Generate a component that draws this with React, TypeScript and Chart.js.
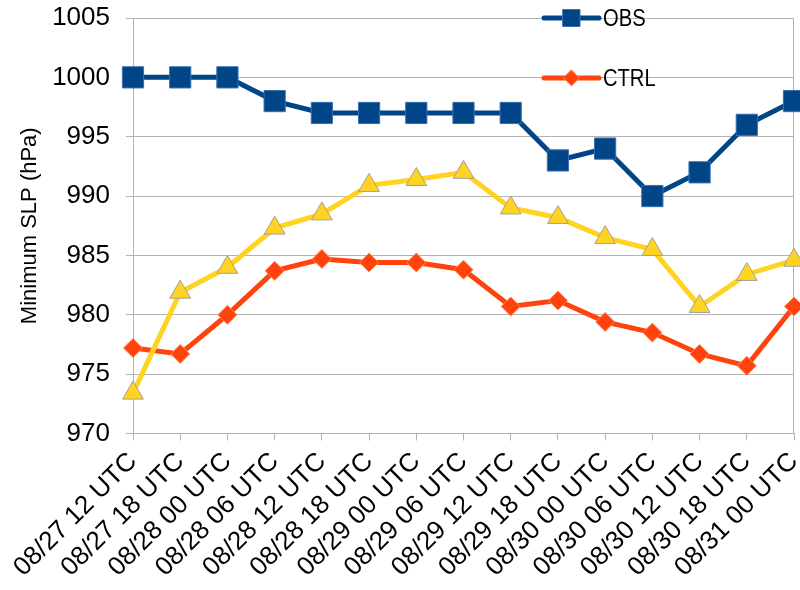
import React, { useEffect, useRef } from "react";
import { Chart, registerables } from "chart.js";

Chart.register(...registerables);

const categories = [
  "08/27 12 UTC", "08/27 18 UTC", "08/28 00 UTC", "08/28 06 UTC", "08/28 12 UTC",
  "08/28 18 UTC", "08/29 00 UTC", "08/29 06 UTC", "08/29 12 UTC", "08/29 18 UTC",
  "08/30 00 UTC", "08/30 06 UTC", "08/30 12 UTC", "08/30 18 UTC", "08/31 00 UTC",
];
const obsValues = [1000, 1000, 1000, 998, 997, 997, 997, 997, 997, 993, 994, 990, 992, 996, 998];
const ctrlValues = [977.2, 976.7, 980, 983.7, 984.7, 984.4, 984.4, 983.8, 980.7, 981.2, 979.4, 978.5, 976.7, 975.7, 980.7];
const thirdValues = [973.4, 981.9, 984, 987.3, 988.5, 990.9, 991.4, 992, 989, 988.2, 986.5, 985.5, 980.7, 983.4, 984.6];
const yMin = 970;
const yMax = 1005;
const yStep = 5;
const yTitle = "Minimum SLP (hPa)";

const GRID = "#b3b3b3";
const FONT = "'Liberation Sans', Arial, sans-serif";

const framePlugin = {
  id: "frame",
  beforeDatasetsDraw(chart: any) {
    const { ctx, chartArea } = chart;
    ctx.save();
    ctx.strokeStyle = GRID;
    ctx.lineWidth = 1;
    ctx.beginPath();
    const x = Math.round(chartArea.right) - 0.5;
    ctx.moveTo(x, chartArea.top);
    ctx.lineTo(x, chartArea.bottom);
    ctx.stroke();
    ctx.restore();
  },
};

const legendPlugin = {
  id: "customLegend",
  afterDatasetsDraw(chart: any) {
    const { ctx, chartArea } = chart;
    const items = chart.data.datasets.filter((d: any) => d.inLegend);
    items.forEach((ds: any, i: number) => {
      const y = chartArea.top + i * 60;
      const x0 = chartArea.right - 250;
      const x1 = chartArea.right - 195;
      const xm = (x0 + x1) / 2;
      ctx.save();
      ctx.strokeStyle = ds.borderColor;
      ctx.lineWidth = 5;
      ctx.lineCap = "round";
      ctx.beginPath();
      ctx.moveTo(x0, y);
      ctx.lineTo(x1, y);
      ctx.stroke();
      ctx.fillStyle = ds.pointBackgroundColor;
      ctx.strokeStyle = ds.pointBorderColor;
      ctx.lineWidth = 1;
      ctx.beginPath();
      if (ds.pointStyle === "rect") {
        ctx.rect(xm - 8.5, y - 8.5, 17, 17);
      } else {
        ctx.moveTo(xm, y - 8);
        ctx.lineTo(xm + 8, y);
        ctx.lineTo(xm, y + 8);
        ctx.lineTo(xm - 8, y);
        ctx.closePath();
      }
      ctx.fill();
      ctx.stroke();
      ctx.fillStyle = "#000";
      ctx.font = "24px " + FONT;
      ctx.textAlign = "left";
      ctx.textBaseline = "middle";
      ctx.translate(x1 + 4, y + 1);
      ctx.scale(0.84, 1);
      ctx.fillText(ds.label, 0, 0);
      ctx.restore();
    });
  },
};

export default function App() {
  const ref = useRef<HTMLCanvasElement | null>(null);
  useEffect(() => {
    document.body.style.margin = "0";
    if (!ref.current) return;
    const chart = new Chart(ref.current, {
      type: "line",
      data: {
        labels: categories,
        datasets: [
          {
            label: "OBS",
            inLegend: true,
            data: obsValues,
            borderColor: "#004586",
            backgroundColor: "#004586",
            pointBackgroundColor: "#004586",
            pointBorderColor: "#3a6fb5",
            pointBorderWidth: 1,
            pointStyle: "rect",
            pointRadius: 15,
            borderWidth: 5,
            order: 3,
          } as any,
          {
            label: "CTRL",
            inLegend: true,
            data: ctrlValues,
            borderColor: "#ff420e",
            backgroundColor: "#ff420e",
            pointBackgroundColor: "#ff420e",
            pointBorderColor: "#ff8a50",
            pointBorderWidth: 1,
            pointStyle: "rectRot",
            pointRadius: 9.5,
            borderWidth: 5,
            order: 2,
          } as any,
          {
            label: "",
            inLegend: false,
            data: thirdValues,
            borderColor: "#ffd320",
            backgroundColor: "#ffd320",
            pointBackgroundColor: "#ffd320",
            pointBorderColor: "#a0a0a0",
            pointBorderWidth: 1,
            pointStyle: "triangle",
            pointRadius: 12,
            borderWidth: 5,
            order: 1,
          } as any,
        ],
      },
      options: {
        animation: false,
        responsive: true,
        maintainAspectRatio: false,
        layout: { autoPadding: false, padding: { top: 0, right: 0, left: 4, bottom: 1 } },
        plugins: {
          legend: { display: false },
          tooltip: { enabled: false },
        },
        scales: {
          x: {
            offset: false,
            grid: {
              drawOnChartArea: false,
              drawTicks: true,
              tickLength: 7,
              color: GRID,
            },
            border: { color: GRID, width: 1 },
            ticks: {
              color: "#000",
              font: { family: FONT, size: 26 },
              maxRotation: 45,
              minRotation: 45,
              autoSkip: false,
              padding: 6,
            },
            afterFit: (scale: any) => {
              scale.paddingRight = 6;
              scale.paddingLeft = 0;
            },
          },
          y: {
            min: yMin,
            max: yMax,
            grid: { color: GRID, tickLength: 7 },
            border: { color: GRID, width: 1 },
            ticks: {
              stepSize: yStep,
              color: "#000",
              font: { family: FONT, size: 26 },
              padding: 16,
              callback: (v: any) => String(v),
            },
            title: {
              display: true,
              text: yTitle,
              color: "#000",
              font: { family: FONT, size: 22 },
              padding: { top: 13, bottom: 0 },
            },
            afterFit: (scale: any) => {
              scale.width = 129;
              scale.paddingTop = 18;
              scale.paddingBottom = 0;
            },
          },
        },
      },
      plugins: [framePlugin, legendPlugin],
    } as any);
    return () => chart.destroy();
  }, []);
  return (
    <div style={{ width: 800, height: 590, position: "relative" }}>
      <canvas ref={ref} />
    </div>
  );
}
